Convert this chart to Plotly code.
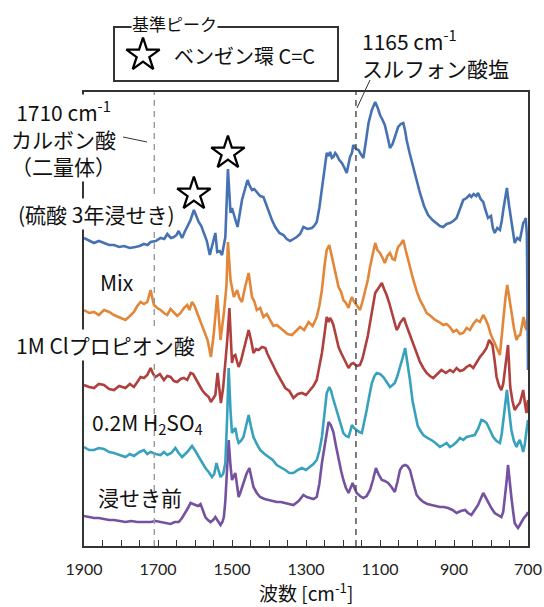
import plotly.graph_objects as go

# ---- spectra (wavenumber in cm-1, stacked absorbance in arbitrary units) ----
wn_acid3y = [1900, 1886, 1873, 1860, 1846, 1832, 1819, 1805, 1792, 1776, 1761, 1750, 1738, 1728, 1720,
             1706, 1693, 1683, 1675, 1665, 1657, 1650, 1644, 1635, 1628, 1621, 1612, 1603, 1596, 1590,
             1583, 1576, 1568, 1560, 1554, 1545, 1540, 1533, 1527, 1518, 1511, 1504, 1500, 1495, 1485,
             1473, 1465, 1458, 1452, 1446, 1440, 1433, 1424, 1415, 1408, 1401, 1392, 1383, 1372, 1361,
             1352, 1343, 1334, 1325, 1316, 1307, 1296, 1284, 1278, 1271, 1264, 1257, 1250, 1244, 1239,
             1235, 1230, 1226, 1221, 1217, 1210, 1203, 1196, 1190, 1185, 1181, 1176, 1172, 1165, 1158,
             1152, 1145, 1138, 1131, 1122, 1113, 1106, 1100, 1093, 1087, 1080, 1073, 1066, 1060, 1055,
             1051, 1044, 1037, 1032, 1028, 1020, 1010, 1001, 992, 981, 970, 958, 947, 938, 929,
             920, 911, 902, 893, 884, 875, 866, 858, 853, 847, 840, 835, 828, 821, 815,
             808, 800, 795, 790, 783, 776, 771, 766, 761, 757, 751, 745, 740, 736, 729,
             722, 717, 713, 709, 706, 703, 700]
ab_acid3y = [3.08, 3.05, 3.03, 3.05, 3.03, 3.01, 3.01, 2.99, 3.00, 2.98, 2.99, 3.00, 3.02, 3.01, 3.04,
             3.05, 3.08, 3.07, 3.12, 3.08, 3.09, 3.11, 3.15, 3.08, 3.14, 3.19, 3.26, 3.36, 3.30, 3.24,
             3.20, 3.13, 3.05, 2.91, 2.99, 3.13, 2.94, 2.95, 2.91, 3.09, 3.77, 3.33, 3.38, 3.32, 3.19,
             3.46, 3.58, 3.66, 3.60, 3.56, 3.57, 3.54, 3.50, 3.49, 3.42, 3.34, 3.26, 3.19, 3.13, 3.11,
             3.07, 3.05, 3.07, 3.09, 3.12, 3.19, 3.17, 3.18, 3.20, 3.24, 3.38, 3.56, 3.75, 3.93, 3.90,
             3.94, 3.88, 3.89, 3.93, 3.91, 3.86, 3.83, 3.78, 3.73, 3.82, 3.89, 3.93, 4.01, 3.97, 3.96,
             3.92, 3.88, 4.05, 4.23, 4.36, 4.44, 4.38, 4.31, 4.26, 4.21, 4.10, 3.98, 4.02, 4.09, 4.15,
             4.19, 4.22, 4.23, 4.15, 4.06, 3.93, 3.79, 3.65, 3.53, 3.40, 3.31, 3.26, 3.23, 3.20, 3.19,
             3.22, 3.23, 3.25, 3.28, 3.38, 3.46, 3.48, 3.51, 3.49, 3.52, 3.50, 3.53, 3.47, 3.44, 3.36,
             3.28, 3.30, 3.18, 3.13, 3.18, 3.16, 3.25, 3.38, 3.50, 3.58, 3.40, 3.23, 3.10, 3.03, 3.08,
             3.06, 3.15, 3.23, 3.25, 3.28, 3.10, 1.76]

wn_mix = [1900, 1886, 1873, 1860, 1846, 1832, 1819, 1805, 1788, 1776, 1765, 1756, 1747, 1738, 1729,
          1720, 1711, 1702, 1693, 1684, 1675, 1666, 1657, 1648, 1639, 1630, 1621, 1615, 1608, 1601,
          1594, 1585, 1576, 1566, 1557, 1549, 1540, 1535, 1531, 1522, 1515, 1511, 1504, 1495, 1486,
          1480, 1473, 1464, 1455, 1450, 1446, 1440, 1433, 1424, 1415, 1406, 1397, 1388, 1379, 1370,
          1361, 1350, 1338, 1327, 1316, 1305, 1293, 1282, 1271, 1264, 1257, 1250, 1244, 1237, 1232,
          1226, 1219, 1212, 1205, 1199, 1192, 1185, 1180, 1176, 1171, 1167, 1160, 1154, 1147, 1140,
          1133, 1127, 1120, 1113, 1107, 1100, 1093, 1087, 1080, 1073, 1066, 1060, 1055, 1051, 1044,
          1037, 1030, 1024, 1017, 1010, 1001, 992, 983, 974, 963, 951, 940, 929, 920, 911,
          902, 893, 884, 875, 866, 857, 848, 839, 830, 821, 815, 808, 801, 794, 785,
          776, 771, 766, 761, 756, 750, 745, 738, 731, 726, 721, 716, 712, 708, 704,
          700]
ab_mix = [2.36, 2.33, 2.34, 2.31, 2.36, 2.34, 2.31, 2.29, 2.26, 2.30, 2.34, 2.40, 2.44, 2.42, 2.44,
          2.56, 2.41, 2.38, 2.36, 2.33, 2.31, 2.37, 2.34, 2.30, 2.33, 2.38, 2.41, 2.36, 2.44, 2.40,
          2.33, 2.24, 2.16, 2.06, 1.89, 2.13, 2.51, 2.30, 2.06, 2.33, 2.60, 3.04, 2.66, 2.49, 2.56,
          2.48, 2.44, 2.60, 2.73, 2.60, 2.49, 2.45, 2.36, 2.38, 2.29, 2.32, 2.26, 2.20, 2.21, 2.18,
          2.16, 2.12, 2.11, 2.15, 2.19, 2.16, 2.24, 2.20, 2.29, 2.40, 2.56, 2.80, 2.96, 3.01, 2.93,
          2.83, 2.70, 2.59, 2.54, 2.46, 2.43, 2.38, 2.45, 2.49, 2.45, 2.43, 2.40, 2.36, 2.45, 2.56,
          2.66, 2.79, 2.92, 3.03, 2.96, 2.93, 2.88, 2.83, 2.90, 2.93, 2.87, 2.86, 2.94, 2.99, 3.02,
          3.06, 2.95, 2.86, 2.77, 2.66, 2.55, 2.46, 2.40, 2.33, 2.30, 2.26, 2.24, 2.21, 2.22, 2.19,
          2.14, 2.16, 2.12, 2.13, 2.18, 2.16, 2.22, 2.26, 2.24, 2.31, 2.27, 2.21, 2.12, 2.06, 2.00,
          1.91, 2.10, 2.33, 2.48, 2.61, 2.45, 2.33, 2.18, 2.06, 2.10, 2.11, 2.20, 2.29, 2.20, 2.16,
          2.40]

wn_clprop = [1900, 1886, 1873, 1860, 1846, 1832, 1819, 1805, 1788, 1776, 1765, 1756, 1747, 1738, 1729,
             1720, 1713, 1707, 1695, 1684, 1675, 1666, 1657, 1648, 1639, 1630, 1621, 1612, 1605, 1599,
             1590, 1581, 1572, 1563, 1557, 1551, 1545, 1539, 1534, 1530, 1524, 1518, 1513, 1507, 1503,
             1500, 1496, 1491, 1486, 1482, 1476, 1469, 1462, 1455, 1448, 1442, 1435, 1428, 1419, 1410,
             1404, 1397, 1388, 1379, 1368, 1356, 1345, 1334, 1322, 1311, 1300, 1289, 1280, 1271, 1264,
             1257, 1250, 1244, 1239, 1235, 1230, 1226, 1219, 1212, 1205, 1199, 1192, 1185, 1178, 1172,
             1163, 1154, 1147, 1140, 1133, 1127, 1120, 1113, 1104, 1095, 1089, 1082, 1075, 1068, 1062,
             1055, 1050, 1046, 1040, 1035, 1030, 1024, 1017, 1010, 1001, 992, 983, 974, 965, 956,
             945, 934, 922, 911, 902, 893, 884, 875, 866, 857, 848, 839, 830, 821, 812,
             805, 800, 796, 790, 785, 778, 772, 767, 763, 758, 754, 751, 748, 742, 736,
             729, 722, 717, 713, 708, 704, 700]
ab_clprop = [1.61, 1.59, 1.58, 1.62, 1.61, 1.57, 1.56, 1.60, 1.58, 1.62, 1.59, 1.64, 1.69, 1.68, 1.71,
             1.78, 1.72, 1.69, 1.72, 1.66, 1.70, 1.69, 1.65, 1.64, 1.67, 1.68, 1.66, 1.73, 1.72, 1.68,
             1.62, 1.56, 1.52, 1.49, 1.44, 1.48, 1.51, 1.73, 1.55, 1.43, 1.58, 1.83, 2.05, 2.38, 2.05,
             1.83, 1.90, 1.91, 1.84, 1.79, 1.85, 1.96, 2.06, 2.16, 2.05, 1.93, 1.97, 1.96, 1.99, 1.98,
             1.92, 1.86, 1.80, 1.73, 1.66, 1.58, 1.55, 1.48, 1.52, 1.53, 1.51, 1.56, 1.60, 1.66, 1.78,
             1.93, 2.12, 2.29, 2.24, 2.28, 2.25, 2.21, 2.10, 1.99, 1.93, 1.88, 1.83, 1.78, 1.82, 1.83,
             1.80, 1.81, 1.88, 1.99, 2.10, 2.23, 2.38, 2.53, 2.58, 2.63, 2.57, 2.51, 2.43, 2.34, 2.25,
             2.16, 2.19, 2.23, 2.26, 2.28, 2.22, 2.16, 2.10, 2.03, 1.92, 1.84, 1.78, 1.73, 1.70, 1.68,
             1.72, 1.76, 1.73, 1.76, 1.74, 1.78, 1.75, 1.76, 1.79, 1.81, 1.78, 1.84, 1.89, 1.93, 1.98,
             2.06, 2.03, 2.01, 1.85, 1.69, 1.60, 1.56, 1.62, 1.73, 1.88, 2.01, 1.80, 1.59, 1.45, 1.36,
             1.40, 1.43, 1.50, 1.56, 1.42, 1.33, 1.46]

wn_h2so4 = [1900, 1886, 1873, 1860, 1846, 1832, 1819, 1805, 1788, 1776, 1765, 1750, 1738, 1729, 1720,
            1706, 1693, 1684, 1675, 1664, 1653, 1644, 1635, 1621, 1608, 1599, 1590, 1581, 1572, 1563,
            1554, 1548, 1542, 1536, 1531, 1524, 1518, 1513, 1509, 1504, 1500, 1495, 1491, 1486, 1482,
            1476, 1469, 1462, 1455, 1449, 1442, 1433, 1424, 1412, 1401, 1390, 1379, 1368, 1356, 1345,
            1334, 1322, 1311, 1300, 1289, 1280, 1271, 1264, 1257, 1250, 1244, 1237, 1232, 1228, 1220,
            1212, 1205, 1199, 1192, 1185, 1180, 1176, 1170, 1163, 1156, 1149, 1142, 1136, 1129, 1122,
            1115, 1109, 1100, 1091, 1082, 1073, 1066, 1060, 1053, 1046, 1039, 1032, 1026, 1019, 1012,
            1005, 998, 992, 983, 972, 961, 950, 938, 929, 920, 911, 902, 893, 884, 875,
            866, 855, 844, 835, 826, 819, 812, 803, 794, 785, 776, 771, 766, 761, 757,
            751, 745, 738, 731, 726, 722, 717, 713, 709, 706, 703, 700]
ab_h2so4 = [0.99, 0.96, 0.96, 0.98, 0.97, 0.94, 0.93, 0.91, 0.89, 0.92, 0.90, 0.94, 0.96, 0.92, 0.94,
            0.92, 0.91, 0.94, 0.91, 0.93, 0.98, 0.93, 0.89, 0.94, 1.00, 0.95, 0.89, 0.83, 0.78, 0.74,
            0.69, 0.72, 0.83, 0.75, 0.69, 0.72, 0.83, 1.30, 1.78, 1.35, 1.13, 1.16, 1.18, 1.08, 1.03,
            1.05, 1.09, 1.20, 1.31, 1.20, 1.09, 1.02, 0.96, 0.92, 0.89, 0.86, 0.81, 0.79, 0.76, 0.73,
            0.73, 0.76, 0.78, 0.76, 0.79, 0.82, 0.86, 0.95, 1.09, 1.32, 1.53, 1.59, 1.55, 1.49, 1.39,
            1.29, 1.20, 1.13, 1.10, 1.09, 1.15, 1.21, 1.18, 1.16, 1.14, 1.13, 1.24, 1.36, 1.50, 1.63,
            1.70, 1.73, 1.72, 1.69, 1.64, 1.59, 1.61, 1.63, 1.70, 1.78, 1.88, 1.98, 1.85, 1.66, 1.45,
            1.31, 1.20, 1.16, 1.11, 1.08, 1.06, 1.03, 0.99, 1.01, 1.03, 0.99, 1.01, 1.04, 1.08, 1.06,
            1.09, 1.10, 1.11, 1.17, 1.26, 1.25, 1.23, 1.16, 1.09, 1.05, 1.03, 1.12, 1.26, 1.42, 1.56,
            1.35, 1.16, 1.05, 0.99, 1.04, 1.06, 1.00, 0.94, 1.01, 1.09, 1.18, 1.26]

wn_before = [1900, 1886, 1873, 1860, 1846, 1832, 1819, 1805, 1788, 1772, 1756, 1738, 1720, 1706, 1693,
             1680, 1666, 1655, 1644, 1635, 1626, 1619, 1612, 1605, 1599, 1592, 1585, 1578, 1572, 1565,
             1558, 1551, 1545, 1538, 1531, 1526, 1522, 1518, 1515, 1509, 1504, 1500, 1495, 1491, 1486,
             1482, 1476, 1469, 1461, 1453, 1448, 1442, 1433, 1424, 1412, 1401, 1390, 1379, 1368, 1356,
             1345, 1334, 1320, 1307, 1298, 1289, 1280, 1271, 1264, 1257, 1248, 1239, 1233, 1226, 1219,
             1212, 1205, 1199, 1192, 1185, 1179, 1174, 1169, 1163, 1154, 1145, 1136, 1127, 1119, 1111,
             1103, 1095, 1087, 1078, 1069, 1060, 1053, 1046, 1039, 1032, 1026, 1019, 1010, 1001, 992,
             983, 972, 961, 950, 938, 927, 916, 904, 893, 882, 870, 862, 853, 844, 835,
             828, 821, 815, 808, 799, 790, 781, 772, 767, 763, 758, 754, 750, 745, 740,
             736, 731, 727, 722, 718, 713, 709, 704, 700]
ab_before = [0.30, 0.29, 0.28, 0.28, 0.27, 0.26, 0.26, 0.25, 0.24, 0.25, 0.24, 0.24, 0.24, 0.25, 0.24,
             0.23, 0.22, 0.24, 0.24, 0.28, 0.33, 0.38, 0.43, 0.42, 0.41, 0.40, 0.42, 0.35, 0.29, 0.26,
             0.24, 0.26, 0.29, 0.25, 0.21, 0.24, 0.29, 0.45, 0.66, 1.06, 0.80, 0.66, 0.70, 0.73, 0.60,
             0.49, 0.55, 0.63, 0.72, 0.78, 0.68, 0.59, 0.53, 0.49, 0.47, 0.46, 0.45, 0.44, 0.44, 0.43,
             0.42, 0.41, 0.45, 0.51, 0.49, 0.48, 0.47, 0.49, 0.62, 0.83, 1.06, 1.24, 1.21, 1.14, 1.00,
             0.86, 0.75, 0.66, 0.58, 0.53, 0.58, 0.63, 0.58, 0.53, 0.50, 0.48, 0.50, 0.56, 0.66, 0.78,
             0.71, 0.66, 0.65, 0.63, 0.59, 0.54, 0.64, 0.76, 0.80, 0.81, 0.80, 0.76, 0.63, 0.51, 0.47,
             0.44, 0.42, 0.41, 0.40, 0.39, 0.39, 0.38, 0.36, 0.33, 0.35, 0.36, 0.33, 0.31, 0.36, 0.41,
             0.47, 0.53, 0.49, 0.44, 0.38, 0.33, 0.31, 0.29, 0.34, 0.46, 0.64, 0.81, 0.65, 0.49, 0.34,
             0.23, 0.20, 0.18, 0.21, 0.24, 0.27, 0.29, 0.31, 0.34]

# drawing order: bottom spectrum first
series = [
    ("浸せき前", wn_before, ab_before, "#7452A0"),
    ("0.2M H2SO4", wn_h2so4, ab_h2so4, "#38A2BC"),
    ("1M Clプロピオン酸", wn_clprop, ab_clprop, "#AF403D"),
    ("Mix", wn_mix, ab_mix, "#E2873A"),
    ("硫酸 3年浸せき", wn_acid3y, ab_acid3y, "#4672B3"),
]

# benzene-ring C=C reference peaks (marked with stars)
star_peaks = [1603, 1511]
star_lift = 0.16

# dashed reference lines
ref_lines = [(1710, "#9A9A9A"), (1165, "#454545")]

JP = "Noto Sans CJK JP"
X_RANGE = [1900, 700]
Y_RANGE = [0, 4.54]

W, H = 544, 607
PLOT_L, PLOT_R, PLOT_T, PLOT_B = 84, 528, 92, 546   # plot frame in pixels


def px(x):
    return x / W


def py(y):
    return 1 - y / H


fig = go.Figure()

for name, wn, ab, col in series:
    fig.add_trace(go.Scatter(x=wn, y=ab, mode="lines", name=name,
                             line=dict(color=col, width=2.6), showlegend=False,
                             hoverinfo="skip"))

star_style = dict(symbol="star-open", size=25, color="black",
                  line=dict(width=2.3, color="black"))
star_y = [ab_acid3y[wn_acid3y.index(w)] + star_lift for w in star_peaks]
fig.add_trace(go.Scatter(x=star_peaks, y=star_y, mode="markers", showlegend=False,
                         marker=star_style, cliponaxis=False, hoverinfo="skip"))

# key marker (star) inside the reference-peak box, on its own small axes
fig.add_trace(go.Scatter(x=[0.5], y=[0.5], xaxis="x2", yaxis="y2", mode="markers",
                         showlegend=False, marker=star_style, cliponaxis=False,
                         hoverinfo="skip"))

for wn, col in ref_lines:
    fig.add_shape(type="line", xref="x", yref="y", x0=wn, x1=wn, y0=Y_RANGE[0], y1=Y_RANGE[1],
                  line=dict(color=col, width=1.4, dash="6px,5px"))

# leader lines from labels to the dashed lines
fig.add_shape(type="line", xref="paper", yref="paper",
              x0=px(123), y0=py(137), x1=px(147), y1=py(142),
              line=dict(color="#333", width=1))
fig.add_shape(type="line", xref="paper", yref="paper",
              x0=px(370), y0=py(80), x1=px(357), y1=py(108),
              line=dict(color="#333", width=1))

# reference-peak key box
fig.add_shape(type="rect", xref="paper", yref="paper",
              x0=px(114), x1=px(338), y0=py(81), y1=py(27),
              line=dict(color="#333", width=2))


def label(text, x, y, xanchor="center", size=21, bg="white", align="center", yanchor="middle"):
    fig.add_annotation(text=text, xref="paper", yref="paper",
                       x=px(x), y=py(y), xanchor=xanchor, yanchor=yanchor,
                       showarrow=False, align=align, bgcolor=bg, borderpad=0,
                       font=dict(family=JP, size=size, color="#111"))


CLEAR = "rgba(0,0,0,0)"
label("基準ピーク", 174, 23, size=17)
label("ベンゼン環 C=C", 173, 55, xanchor="left", bg=CLEAR, size=20)
label("1165 cm<sup>-1</sup><br>スルフォン酸塩", 361, 53, xanchor="left", align="left", bg=CLEAR)
label("1710 cm<sup>-1</sup><br>カルボン酸<br>（二量体）", 63, 138)
label("(硫酸 3年浸せき)", 96, 214)
label("Mix", 117, 282, bg=CLEAR)
label("1M Clプロピオン酸", 105, 345)
label("0.2M H<sub>2</sub>SO<sub>4</sub>", 147, 423, bg=CLEAR)
label("浸せき前", 140, 497, bg=CLEAR)
label("波数 [cm<sup>-1</sup>]", 306, 592, bg=CLEAR, size=19)

fig.update_layout(
    template="none",
    width=W, height=H, margin=dict(l=0, r=0, t=0, b=0, pad=0), autosize=False,
    plot_bgcolor="white", paper_bgcolor="white",
    xaxis=dict(domain=[px(PLOT_L), px(PLOT_R)], range=X_RANGE, automargin=False,
               tickmode="linear", tick0=700, dtick=200,
               ticks="inside", ticklen=6, tickwidth=1, tickcolor="#333",
               minor=dict(ticks="inside", dtick=50, tick0=700, ticklen=6,
                          tickwidth=1, tickcolor="#333", showgrid=False),
               showline=True, mirror=True, linecolor="#333", linewidth=1.6,
               showgrid=False, zeroline=False, ticklabelstandoff=8,
               tickfont=dict(family="Lato", size=16, color="#222")),
    yaxis=dict(domain=[py(PLOT_B), py(PLOT_T)], range=Y_RANGE, automargin=False,
               showticklabels=False, ticks="",
               showline=True, mirror=True, linecolor="#333", linewidth=1.6,
               showgrid=False, zeroline=False),
    xaxis2=dict(domain=[px(130), px(156)], range=[0, 1], visible=False, anchor="y2",
                automargin=False),
    yaxis2=dict(domain=[py(68), py(42)], range=[0, 1], visible=False, anchor="x2",
                automargin=False),
)

fig.write_html("out.html")
